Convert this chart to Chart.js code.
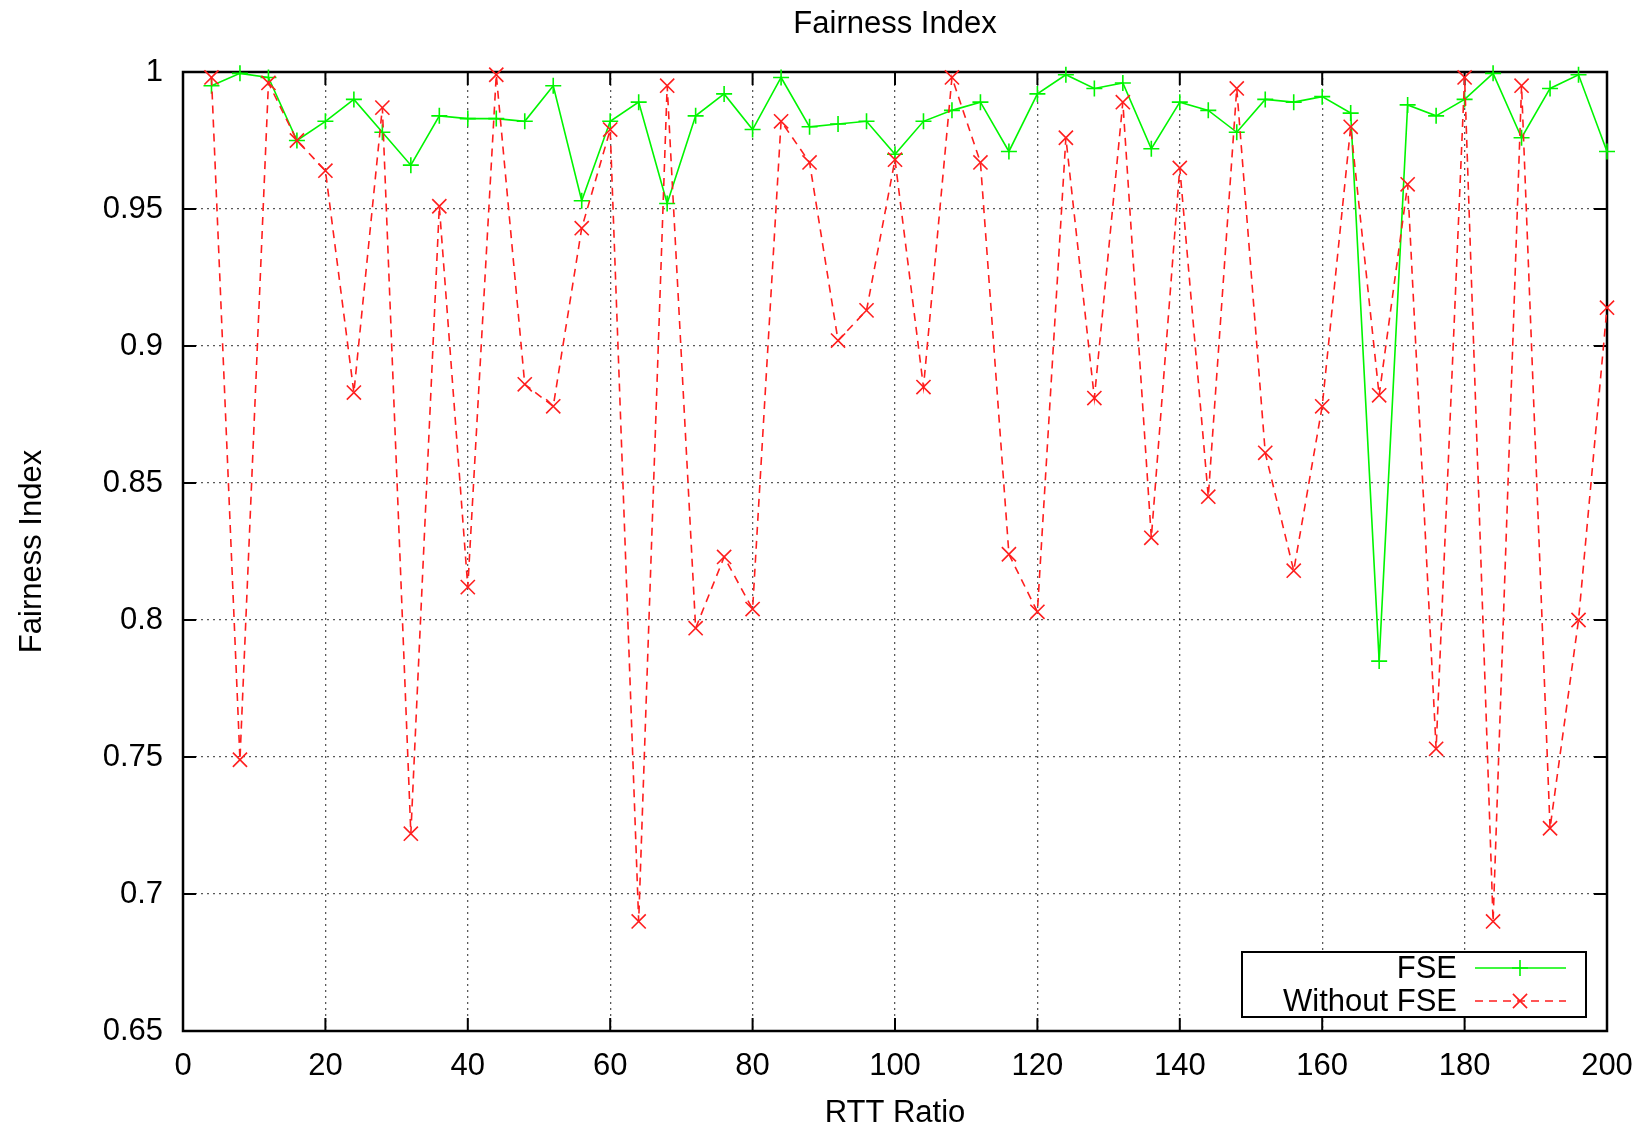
<!DOCTYPE html>
<html>
<head>
<meta charset="utf-8">
<script src="https://cdn.jsdelivr.net/npm/chart.js@4.4.1/dist/chart.umd.min.js"></script>
<style>
  html, body { margin: 0; padding: 0; background: #fff; }
  canvas { display: block; }
</style>
</head>
<body>
<canvas id="fairness-chart" width="1645" height="1129"></canvas>
<script>
const rttRatio = [
  4, 8, 12, 16, 20, 24, 28, 32, 36, 40,
  44, 48, 52, 56, 60, 64, 68, 72, 76, 80,
  84, 88, 92, 96, 100, 104, 108, 112, 116, 120,
  124, 128, 132, 136, 140, 144, 148, 152, 156, 160,
  164, 168, 172, 176, 180, 184, 188, 192, 196, 200,
];
const fse = [
  0.995, 0.9995, 0.998, 0.975, 0.982, 0.990, 0.978, 0.966, 0.984, 0.983,
  0.983, 0.982, 0.995, 0.953, 0.982, 0.989, 0.952, 0.984, 0.992, 0.979,
  0.998, 0.980, 0.981, 0.982, 0.970, 0.982, 0.986, 0.989, 0.971, 0.992,
  0.999, 0.994, 0.996, 0.972, 0.989, 0.986, 0.978, 0.990, 0.989, 0.991,
  0.985, 0.785, 0.988, 0.984, 0.990, 0.9995, 0.976, 0.994, 0.999, 0.971,
];
const withoutFse = [
  0.998, 0.749, 0.996, 0.975, 0.964, 0.883, 0.987, 0.722, 0.951, 0.812,
  0.999, 0.886, 0.878, 0.943, 0.979, 0.690, 0.995, 0.797, 0.823, 0.804,
  0.982, 0.967, 0.902, 0.913, 0.968, 0.885, 0.998, 0.967, 0.824, 0.803,
  0.976, 0.881, 0.989, 0.830, 0.965, 0.845, 0.994, 0.861, 0.818, 0.878,
  0.980, 0.882, 0.959, 0.753, 0.998, 0.690, 0.995, 0.724, 0.800, 0.914,
];
const seriesNames = ["FSE", "Without FSE"];
const chartTitle = "Fairness Index";

const fontFamily = "'Liberation Sans', Arial, sans-serif";
Chart.defaults.font.family = fontFamily;
Chart.defaults.font.size = 31;
Chart.defaults.color = "#000";

// title centred over the plot area, like gnuplot does
const plotTitle = {
  id: "plotTitle",
  afterDraw(chart) {
    const { ctx, chartArea: a } = chart;
    ctx.save();
    ctx.font = "31px " + fontFamily;
    ctx.fillStyle = "#000";
    ctx.textAlign = "center";
    ctx.textBaseline = "middle";
    ctx.fillText(chartTitle, (a.left + a.right) / 2, 24);
    ctx.restore();
  },
};

// gnuplot style frame with inward ticks on all four sides
const frame = {
  id: "frame",
  beforeDatasetsDraw(chart) {
    const { ctx, chartArea: a, scales } = chart;
    ctx.save();
    ctx.strokeStyle = "#000";
    ctx.lineWidth = 2;
    ctx.beginPath();
    scales.y.ticks.forEach((t) => {
      const y = scales.y.getPixelForValue(t.value);
      ctx.moveTo(a.left, y);
      ctx.lineTo(a.left + 13, y);
      ctx.moveTo(a.right, y);
      ctx.lineTo(a.right - 13, y);
    });
    scales.x.ticks.forEach((t) => {
      const x = scales.x.getPixelForValue(t.value);
      ctx.moveTo(x, a.bottom);
      ctx.lineTo(x, a.bottom - 13);
      ctx.moveTo(x, a.top);
      ctx.lineTo(x, a.top + 13);
    });
    ctx.stroke();
    ctx.lineWidth = 2.5;
    ctx.strokeRect(a.left, a.top, a.right - a.left, a.bottom - a.top);
    ctx.restore();
  },
};

// legend box in the lower right corner, text on the left, sample on the right
const legendBox = {
  id: "legendBox",
  afterDraw(chart) {
    const { ctx, chartArea: a } = chart;
    const w = 344, h = 65;
    const left = a.right - 21 - w;
    const top = a.bottom - 14 - h;
    ctx.save();
    ctx.fillStyle = "#fff";
    ctx.fillRect(left, top, w, h);
    ctx.strokeStyle = "#000";
    ctx.lineWidth = 2;
    ctx.strokeRect(left, top, w, h);
    ctx.font = "31px " + fontFamily;
    ctx.textAlign = "right";
    ctx.textBaseline = "middle";
    chart.data.datasets.forEach((ds, i) => {
      const y = top + 16 + i * 33;
      ctx.fillStyle = "#000";
      ctx.fillText(ds.label, left + 215, y + 1);
      ctx.strokeStyle = ds.borderColor;
      ctx.lineWidth = ds.borderWidth;
      ctx.setLineDash(ds.borderDash || []);
      ctx.beginPath();
      ctx.moveTo(left + 233, y);
      ctx.lineTo(left + 324, y);
      ctx.stroke();
      ctx.setLineDash([]);
      Chart.helpers.drawPoint(ctx, {
        pointStyle: ds.pointStyle,
        radius: ds.pointRadius,
        borderWidth: ds.pointBorderWidth,
        rotation: 0,
      }, left + 278, y);
    });
    ctx.restore();
  },
};

let config = {
  type: "line",
  data: {
    datasets: [
      {
        label: seriesNames[0],
        data: rttRatio.map((x, i) => ({ x: x, y: fse[i] })),
        borderColor: "rgb(0, 245, 0)",
        borderWidth: 1.6,
        pointStyle: "cross",
        pointRadius: 8,
        pointBorderWidth: 1.6,
        pointBorderColor: "rgb(0, 245, 0)",
        tension: 0,
        clip: false,
        order: 1,
      },
      {
        label: seriesNames[1],
        data: rttRatio.map((x, i) => ({ x: x, y: withoutFse[i] })),
        borderColor: "rgb(255, 30, 30)",
        borderWidth: 1.6,
        borderDash: [8, 6],
        pointStyle: "crossRot",
        pointRadius: 10,
        pointBorderWidth: 1.6,
        pointBorderColor: "rgb(255, 30, 30)",
        tension: 0,
        clip: false,
        order: 0,
      },
    ],
  },
  options: {
    responsive: false,
    animation: false,
    layout: {
      padding: { left: 0, right: 38, top: 72, bottom: 0 },
    },
    scales: {
      x: {
        type: "linear",
        min: 0,
        max: 200,
        afterFit: (scale) => {
          scale.height = 98;
          scale.paddingLeft = 0;
          scale.paddingRight = 0;
        },
        ticks: { stepSize: 20, padding: 17, maxRotation: 0 },
        grid: { color: "rgba(0, 0, 0, 0.65)", lineWidth: 1.3, drawTicks: false },
        border: { display: false, dash: [2, 4] },
        title: {
          display: true,
          text: "RTT Ratio",
          padding: { top: 0, bottom: -3 },
        },
      },
      y: {
        min: 0.65,
        max: 1,
        afterFit: (scale) => {
          scale.width = 183;
          scale.paddingTop = 0;
          scale.paddingBottom = 0;
        },
        ticks: {
          stepSize: 0.05,
          padding: 20,
          callback: function (value) {
            return String(Number(value.toFixed(2)));
          },
        },
        grid: { color: "rgba(0, 0, 0, 0.65)", lineWidth: 1.3, drawTicks: false },
        border: { display: false, dash: [2, 4] },
        title: {
          display: true,
          text: "Fairness Index",
          padding: { top: 14, bottom: 0 },
        },
      },
    },
    plugins: {
      legend: { display: false },
      tooltip: { enabled: false },
      title: { display: false },
    },
  },
  plugins: [frame, legendBox, plotTitle],
};
const fairnessChart = new Chart(document.getElementById("fairness-chart"), config);
</script>
</body>
</html>
